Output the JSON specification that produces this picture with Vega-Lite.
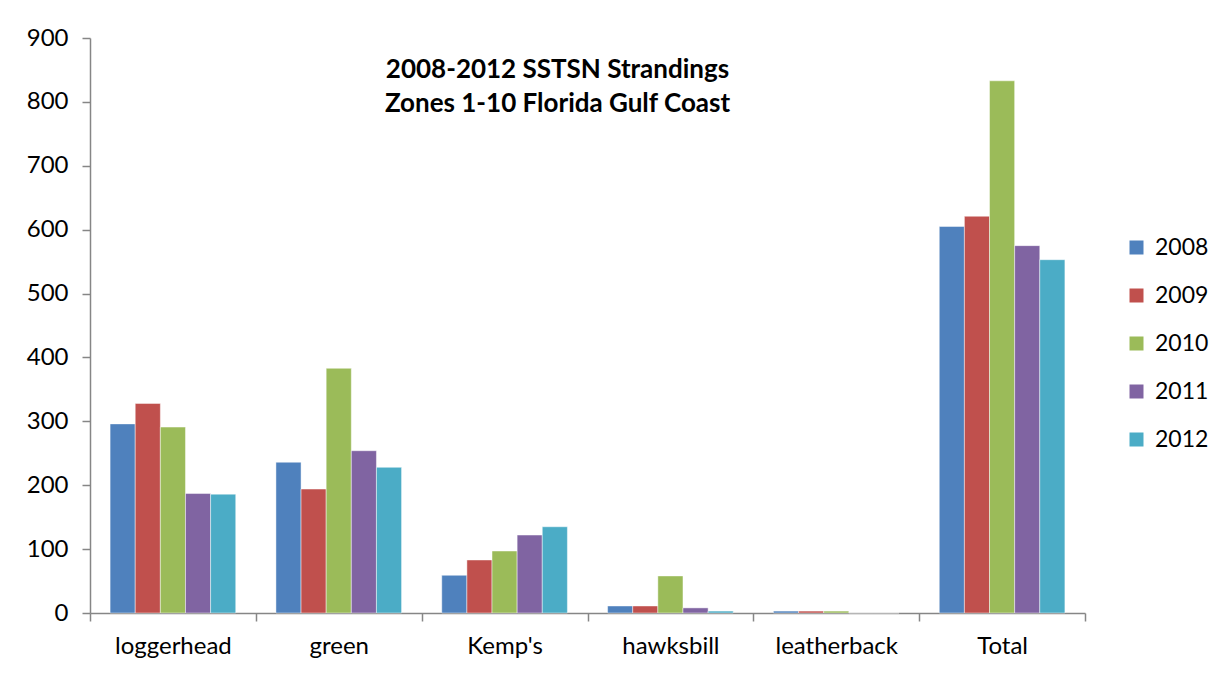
{
  "$schema": "https://vega.github.io/schema/vega-lite/v6.json",
  "width": 995,
  "height": 575,
  "autosize": "none",
  "padding": {"left": 90, "top": 38, "right": 141, "bottom": 64},
  "background": "#ffffff",
  "title": {
    "text": ["2008-2012 SSTSN Strandings", " Zones 1-10 Florida Gulf Coast"],
    "font": "Lato",
    "fontSize": 26,
    "fontWeight": "bold",
    "color": "#000000",
    "anchor": "middle",
    "baseline": "top",
    "lineHeight": 34,
    "dx": -30,
    "offset": -91
  },
  "data": {
    "values": [
      {"species": "loggerhead", "year": "2008", "value": 296},
      {"species": "loggerhead", "year": "2009", "value": 328},
      {"species": "loggerhead", "year": "2010", "value": 291},
      {"species": "loggerhead", "year": "2011", "value": 187},
      {"species": "loggerhead", "year": "2012", "value": 186},
      {"species": "green", "year": "2008", "value": 236},
      {"species": "green", "year": "2009", "value": 194},
      {"species": "green", "year": "2010", "value": 383},
      {"species": "green", "year": "2011", "value": 254},
      {"species": "green", "year": "2012", "value": 228},
      {"species": "Kemp's", "year": "2008", "value": 59},
      {"species": "Kemp's", "year": "2009", "value": 83},
      {"species": "Kemp's", "year": "2010", "value": 97},
      {"species": "Kemp's", "year": "2011", "value": 122},
      {"species": "Kemp's", "year": "2012", "value": 135},
      {"species": "hawksbill", "year": "2008", "value": 11},
      {"species": "hawksbill", "year": "2009", "value": 11},
      {"species": "hawksbill", "year": "2010", "value": 58},
      {"species": "hawksbill", "year": "2011", "value": 8},
      {"species": "hawksbill", "year": "2012", "value": 3},
      {"species": "leatherback", "year": "2008", "value": 3},
      {"species": "leatherback", "year": "2009", "value": 3},
      {"species": "leatherback", "year": "2010", "value": 3},
      {"species": "leatherback", "year": "2011", "value": 0},
      {"species": "leatherback", "year": "2012", "value": 0},
      {"species": "Total", "year": "2008", "value": 605},
      {"species": "Total", "year": "2009", "value": 621},
      {"species": "Total", "year": "2010", "value": 833},
      {"species": "Total", "year": "2011", "value": 575},
      {"species": "Total", "year": "2012", "value": 553}
    ]
  },
  "mark": {"type": "bar", "stroke": "#ffffff", "strokeOpacity": 0.45, "strokeWidth": 1},
  "encoding": {
    "x": {
      "field": "species",
      "type": "nominal",
      "sort": ["loggerhead", "green", "Kemp's", "hawksbill", "leatherback", "Total"],
      "scale": {"paddingInner": 0, "paddingOuter": 0},
      "axis": {
        "title": null,
        "labelAngle": 0,
        "tickBand": "extent",
        "labelFont": "Lato",
        "labelFontSize": 24,
        "labelColor": "#000000",
        "labelPadding": 13,
        "domainColor": "#868686",
        "domainWidth": 1.5,
        "tickColor": "#868686",
        "tickWidth": 1.5,
        "tickSize": 8
      }
    },
    "xOffset": {
      "field": "year",
      "type": "nominal",
      "scale": {"paddingInner": 0, "paddingOuter": 0.8}
    },
    "y": {
      "field": "value",
      "type": "quantitative",
      "scale": {"domain": [0, 900], "nice": false},
      "axis": {
        "title": null,
        "values": [0, 100, 200, 300, 400, 500, 600, 700, 800, 900],
        "grid": false,
        "labelFont": "Lato",
        "labelFontSize": 24,
        "labelColor": "#000000",
        "labelPadding": 14,
        "domainColor": "#868686",
        "domainWidth": 1.5,
        "tickColor": "#868686",
        "tickWidth": 1.5,
        "tickSize": 8
      }
    },
    "color": {
      "field": "year",
      "type": "nominal",
      "scale": {
        "domain": ["2008", "2009", "2010", "2011", "2012"],
        "range": ["#4F81BD", "#C0504D", "#9BBB59", "#8064A2", "#4BACC6"]
      },
      "legend": {
        "title": null,
        "orient": "none",
        "legendX": 1035,
        "legendY": 198,
        "padding": 0,
        "symbolType": "square",
        "symbolSize": 196,
        "symbolStrokeWidth": 0,
        "symbolOpacity": 1,
        "labelFont": "Lato",
        "labelFontSize": 23,
        "labelColor": "#000000",
        "labelOffset": 7,
        "rowPadding": 24
      }
    }
  },
  "config": {"view": {"stroke": null}}
}
